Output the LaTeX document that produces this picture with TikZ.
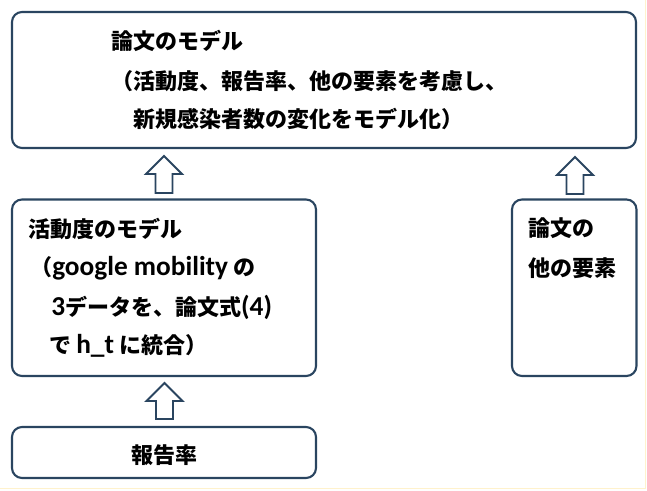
\documentclass[tikz,border=0pt]{standalone}
\usepackage{fontspec}
\setmainfont{Noto Sans CJK JP}
\newfontfamily\latfont{Carlito}
\usetikzlibrary{fit}
\definecolor{navy}{HTML}{2A4560}
\definecolor{paleyellow}{HTML}{FFF2CC}
\newcommand{\latx}[1]{{\latfont\bfseries\fontsize{20.5}{20}\selectfont #1}}
\newcommand{\blockup}[4]{%
  \draw[blockarrow] (#1,#2) -- (#1+18,#3) -- (#1+8.5,#3) -- (#1+8.5,#4) -- (#1-8.5,#4) -- (#1-8.5,#3) -- (#1-18,#3) -- cycle;}
\begin{document}
\begin{tikzpicture}[x=0.75pt,y=-0.75pt,
  box/.style={draw=navy, line width=1.6pt, rounded corners=7.5pt, inner sep=0pt},
  txt/.style={anchor=west, inner sep=0pt, font=\fontsize{16.5}{20}\selectfont\bfseries, text=black},
  blockarrow/.style={draw=navy, line width=1.4pt, fill=white, line join=miter}]
\useasboundingbox (0,0) rectangle (647,490);
\draw[paleyellow, line width=0.75pt] (0,488.5) -- (645.5,488.5) -- (645.5,0);

\node[box, fit={(12,12) (636,148)}] (paper) {};
\node[box, fit={(12,199.5) (316,376)}] (activity) {};
\node[box, fit={(512,199.5) (636.5,376)}] (other) {};
\node[box, fit={(12,427) (316,478)}] (report) {};

\node[txt] (p1) at (111,41) {論文のモデル};
\node[txt] (p2) at (111,81) {（活動度、報告率、他の要素を考慮し、};
\node[txt] (p3) at (133,119) {新規感染者数の変化をモデル化）};

\node[txt] (a1) at (28,229) {活動度のモデル};
\node[txt] (a2) at (30,268) {（\latx{google mobility} の};
\node[txt] (a3) at (51,307) {\latx{3}データを、論文式\latx{(4)}};
\node[txt] (a4) at (49,346) {で \latx{h\_t} に統合）};

\node[txt] (o1) at (528,228) {論文の};
\node[txt] (o2) at (528,268) {他の要素};

\node[txt, anchor=center] (r1) at (164,455) {報告率};

\blockup{164}{156}{174}{193}
\blockup{575}{157}{175}{194}
\blockup{164.5}{383}{401}{419}
\end{tikzpicture}
\end{document}
